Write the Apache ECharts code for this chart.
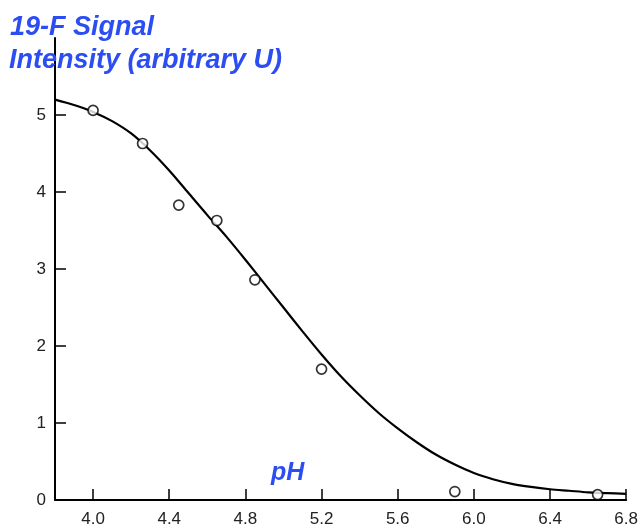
<!DOCTYPE html>
<html>
<head>
<meta charset="utf-8">
<script src="https://cdn.jsdelivr.net/npm/echarts@6/dist/echarts.min.js"></script>
<style>
html,body{margin:0;padding:0;background:#fff;}
#c{width:641px;height:529px;}
</style>
</head>
<body>
<div id="c"></div>
<script>
// Measured data points (pH, 19-F signal intensity)
var pointsX = [4.00, 4.26, 4.45, 4.65, 4.85, 5.20, 5.90, 6.65];
var pointsY = [5.06, 4.63, 3.83, 3.63, 2.86, 1.70, 0.11, 0.07];

// Fitted curve, every 0.1 pH
var curveX = [3.8, 3.9, 4.0, 4.1, 4.2, 4.3, 4.4, 4.5, 4.6, 4.7, 4.8, 4.9, 5.0, 5.1, 5.2, 5.3,
              5.4, 5.5, 5.6, 5.7, 5.8, 5.9, 6.0, 6.1, 6.2, 6.3, 6.4, 6.5, 6.6, 6.7, 6.8];
var curveY = [5.20, 5.13, 5.04, 4.92, 4.76, 4.54, 4.28, 3.99, 3.70, 3.42, 3.12, 2.81, 2.50, 2.19, 1.89, 1.61,
              1.36, 1.13, 0.93, 0.75, 0.59, 0.46, 0.35, 0.27, 0.21, 0.17, 0.14, 0.12, 0.10, 0.09, 0.08];

// Tick labels
var xTicks = [4.0, 4.4, 4.8, 5.2, 5.6, 6.0, 6.4, 6.8];
var yTicks = [0, 1, 2, 3, 4, 5];

var titleLine1 = '19-F Signal';
var titleLine2 = 'Intensity (arbitrary U)';
var xName = 'pH';

var blue = '#2b4df2';
var chart = echarts.init(document.getElementById('c'));

function zip(a, b) { return a.map(function (v, i) { return [v, b[i]]; }); }

chart.setOption({
  animation: false,
  backgroundColor: '#fff',
  grid: { left: 55, right: 12, top: 38, bottom: 29, containLabel: false },
  xAxis: {
    type: 'value', min: 3.8, max: 6.8,
    axisLine: { show: true, onZero: false, lineStyle: { color: '#000', width: 2 } },
    axisTick: { show: true, inside: true, length: 11, customValues: xTicks, lineStyle: { color: '#000', width: 1.5 } },
    axisLabel: { customValues: xTicks, formatter: function (v) { return v.toFixed(1); },
      color: '#222', fontSize: 17, fontFamily: 'Liberation Sans, Arial, sans-serif', margin: 11 },
    splitLine: { show: false }
  },
  yAxis: {
    type: 'value', min: 0, max: 6,
    axisLine: { show: true, lineStyle: { color: '#000', width: 2 } },
    axisTick: { show: true, inside: true, length: 11, customValues: yTicks, lineStyle: { color: '#000', width: 1.5 } },
    axisLabel: { customValues: yTicks, color: '#222', fontSize: 17, fontFamily: 'Liberation Sans, Arial, sans-serif', margin: 9 },
    splitLine: { show: false }
  },
  series: [
    {
      type: 'line', data: zip(curveX, curveY), smooth: 0.3, showSymbol: false, symbol: 'none',
      lineStyle: { color: '#000', width: 2.2 }, z: 2
    },
    {
      type: 'scatter', data: zip(pointsX, pointsY), symbol: 'circle', symbolSize: 10,
      itemStyle: { color: '#fff', borderColor: '#000', borderWidth: 1.7 }, z: 3
    }
  ],
  graphic: [
    { type: 'text', left: 10, top: 14, z: 10,
      style: { text: titleLine1, fill: blue, font: 'italic bold 27px "Liberation Sans", Arial, sans-serif' } },
    { type: 'text', left: 9, top: 47, z: 10,
      style: { text: titleLine2, fill: blue, font: 'italic bold 27px "Liberation Sans", Arial, sans-serif' } },
    { type: 'text', left: 271, top: 461, z: 10,
      style: { text: xName, fill: blue, font: 'italic bold 25px "Liberation Sans", Arial, sans-serif' } }
  ]
});
</script>
</body>
</html>
